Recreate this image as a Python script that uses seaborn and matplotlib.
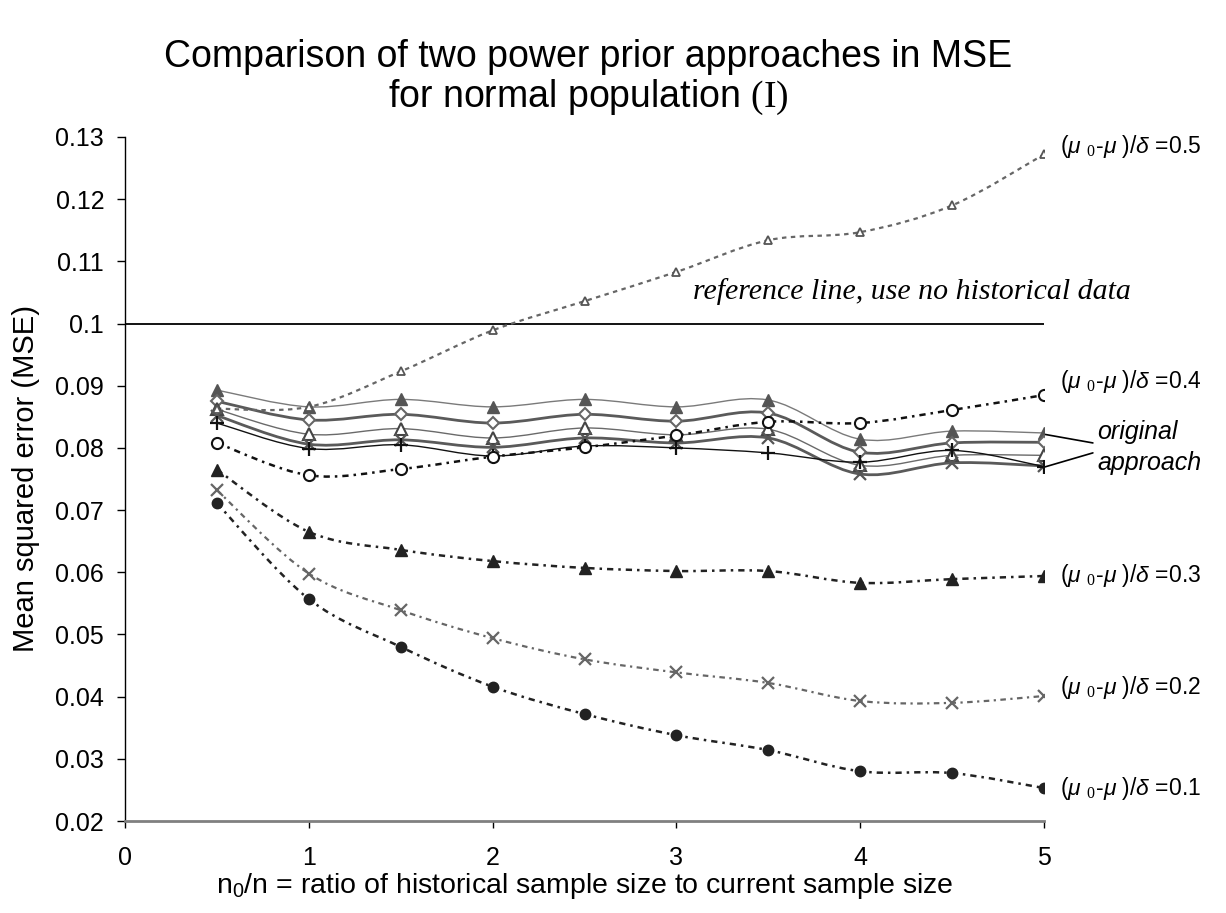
import numpy as np
import matplotlib
matplotlib.use("Agg")
import matplotlib.pyplot as plt
from matplotlib.path import Path
from matplotlib.patches import PathPatch
import seaborn as sns

# n0/n ratios on the x axis
ratio = [0.5, 1.0, 1.5, 2.0, 2.5, 3.0, 3.5, 4.0, 4.5, 5.0]

# MSE of the modified power prior, one curve per (mu0 - mu)/delta
mse_d05 = [0.0863, 0.0866, 0.0923, 0.0989, 0.1036, 0.1083, 0.1134, 0.1147, 0.1190, 0.1272]
mse_d04 = [0.0808, 0.0756, 0.0766, 0.0786, 0.0801, 0.0820, 0.0842, 0.0840, 0.0861, 0.0885]
mse_d03 = [0.0765, 0.0665, 0.0636, 0.0618, 0.0607, 0.0602, 0.0602, 0.0583, 0.0589, 0.0594]
mse_d02 = [0.0732, 0.0598, 0.0539, 0.0494, 0.0460, 0.0439, 0.0422, 0.0393, 0.0390, 0.0401]
mse_d01 = [0.0711, 0.0557, 0.0480, 0.0416, 0.0372, 0.0338, 0.0314, 0.0280, 0.0277, 0.0253]

# MSE of the original power prior approach
orig_a = [0.0893, 0.0866, 0.0878, 0.0866, 0.0878, 0.0866, 0.0877, 0.0814, 0.0827, 0.0824]
orig_b = [0.0875, 0.0845, 0.0854, 0.0840, 0.0854, 0.0843, 0.0856, 0.0793, 0.0808, 0.0809]
orig_c = [0.0862, 0.0822, 0.0831, 0.0816, 0.0832, 0.0821, 0.0830, 0.0772, 0.0788, 0.0788]
orig_d = [0.0852, 0.0806, 0.0813, 0.0801, 0.0816, 0.0808, 0.0816, 0.0758, 0.0776, 0.0771]
orig_e = [0.0840, 0.0799, 0.0805, 0.0787, 0.0803, 0.0800, 0.0792, 0.0777, 0.0796, 0.0770]

reference_mse = 0.1

x_ticks = [0, 1, 2, 3, 4, 5]
y_ticks = [0.02, 0.03, 0.04, 0.05, 0.06, 0.07, 0.08, 0.09, 0.1, 0.11, 0.12, 0.13]
y_tick_labels = ["0.02", "0.03", "0.04", "0.05", "0.06", "0.07", "0.08", "0.09",
                 "0.1", "0.11", "0.12", "0.13"]

sns.set_theme(style="white")
plt.rcParams["font.family"] = ["Liberation Sans", "DejaVu Sans"]
plt.rcParams["mathtext.fontset"] = "custom"
plt.rcParams["mathtext.rm"] = "Liberation Serif"
plt.rcParams["mathtext.it"] = "Liberation Sans:italic"
plt.rcParams["mathtext.sf"] = "Liberation Sans"
for key in ("text.color", "axes.labelcolor", "xtick.color", "ytick.color"):
    plt.rcParams[key] = "black"


def smooth_path(xs, ys):
    """Smoothed polyline through the points (cubic Bezier segments)."""
    pts = np.column_stack([xs, ys]).astype(float)
    n = len(pts)
    verts = [pts[0]]
    codes = [Path.MOVETO]
    for i in range(n - 1):
        p0 = pts[i - 1] if i > 0 else pts[i]
        p1 = pts[i]
        p2 = pts[i + 1]
        p3 = pts[i + 2] if i + 2 < n else pts[i + 1]
        c1 = p1 + (p2 - p0) / 6.0
        c2 = p2 - (p3 - p1) / 6.0
        verts += [c1, c2, p2]
        codes += [Path.CURVE4] * 3
    return Path(verts, codes)


fig = plt.figure(figsize=(12.26, 9.13), dpi=100)
ax = fig.add_axes([125 / 1226, 1 - 821 / 913, (1044 - 125) / 1226, (821 - 137) / 913])

series = [
    # values, line colour, lw, dash, marker, size, face, edge, mew
    (orig_a, "#7a7a7a", 1.0, "-", "^", 8, "#555555", "#555555", 1.0),
    (orig_b, "#5a5a5a", 2.0, "-", "D", 6.5, "white", "#666666", 1.5),
    (orig_c, "#6a6a6a", 1.0, "-", "^", 9, "white", "#444444", 1.5),
    (orig_d, "#5a5a5a", 2.0, "-", "x", 9, "#555555", "#555555", 1.6),
    (orig_e, "#111111", 1.0, "-", "+", 10, "#111111", "#111111", 1.6),
    (mse_d05, "#666666", 1.6, (0, (2.0, 2.0)), "^", 6, "white", "#555555", 1.3),
    (mse_d04, "#111111", 1.8, (0, (2.5, 2.0, 1.0, 2.0)), "o", 8, "white", "#111111", 1.5),
    (mse_d03, "#222222", 1.8, (0, (2.5, 2.0, 1.0, 2.0)), "^", 8, "#222222", "#222222", 1.0),
    (mse_d02, "#666666", 1.6, (0, (2.5, 2.0, 1.0, 2.0)), "x", 9, "#666666", "#666666", 1.6),
    (mse_d01, "#222222", 1.8, (0, (2.5, 2.0, 1.0, 2.0)), "o", 7.5, "#222222", "#222222", 1.0),
]

for vals, lc, lw, dash, mk, ms, fc, ec, mew in series:
    ax.add_patch(PathPatch(smooth_path(ratio, vals), facecolor="none", edgecolor=lc,
                           lw=lw, linestyle=dash, zorder=2, capstyle="butt"))
    sns.lineplot(x=ratio, y=vals, ax=ax, linestyle="none", marker=mk, markersize=ms,
                 markerfacecolor=fc, markeredgecolor=ec, markeredgewidth=mew,
                 color=ec, legend=False, zorder=3)

ax.axhline(reference_mse, color="black", lw=1.3, zorder=1.5)

ax.set_xlim(0, 5)
ax.set_ylim(0.02, 0.13)
ax.set_xticks(x_ticks)
ax.set_xticklabels([str(t) for t in x_ticks])
ax.set_yticks(y_ticks)
ax.set_yticklabels(y_tick_labels)

for side in ("top", "right"):
    ax.spines[side].set_visible(False)
ax.spines["left"].set_color("black")
ax.spines["left"].set_linewidth(1.0)
ax.spines["bottom"].set_color("#808080")
ax.spines["bottom"].set_linewidth(2.0)

ax.tick_params(axis="y", direction="out", length=6, width=1, color="black",
               labelsize=18, pad=9, left=True)
ax.tick_params(axis="x", direction="out", length=5, width=1, color="black",
               labelsize=18, pad=13, bottom=True)

ax.set_ylabel("Mean squared error (MSE)", fontsize=21, labelpad=11)
ax.set_xlabel(r"n$_\mathsf{0}$/n = ratio of historical sample size to current sample size",
              fontsize=20.5, labelpad=1)

fig.text(588 / 1226, 1 - 78 / 913,
         "Comparison of two power prior approaches in MSE\n"
         r"for normal population $\mathrm{(I)}$",
         ha="center", va="center", fontsize=27, linespacing=1.08,
         family=["Liberation Sans", "DejaVu Sans"])

# curve labels on the right
label_pos = [(0.1284, "0.5"), (0.0907, "0.4"), (0.0595, "0.3"), (0.0414, "0.2"), (0.0253, "0.1")]
for ypos, d in label_pos:
    ax.text(5.087, ypos, r"($\mu$ $_{\mathit{0}}$-$\mu$ )/$\delta$ =" + d, fontsize=16.5,
            va="center", ha="left", clip_on=False)

ax.text(5.475, 0.1052, "reference line, use no historical data", fontsize=21.5,
        family="Liberation Serif", style="italic", ha="right", va="center")

ax.text(5.29, 0.0825, "original", fontsize=18, style="italic", ha="left", va="center",
        clip_on=False)
ax.text(5.29, 0.0776, "approach", fontsize=18, style="italic", ha="left", va="center",
        clip_on=False)
ax.plot([5.0, 5.266], [0.0822, 0.0808], color="black", lw=1.2, clip_on=False)
ax.plot([5.0, 5.266], [0.0769, 0.0792], color="black", lw=1.2, clip_on=False)

fig.savefig("out.png", dpi=100)
